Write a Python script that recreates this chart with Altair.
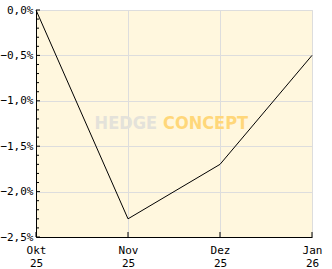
import altair as alt
import pandas as pd

months = ["Okt", "Nov", "Dez", "Jan"]
years = ["25", "25", "25", "26"]
values = [0.0, -2.3, -1.7, -0.5]

y_major = [0.0, -0.5, -1.0, -1.5, -2.0, -2.5]
y_minor = [-0.1, -0.2, -0.3, -0.4, -0.6, -0.7, -0.8, -0.9, -1.1, -1.2, -1.3, -1.4,
           -1.6, -1.7, -1.8, -1.9, -2.1, -2.2, -2.3, -2.4]
x_ticks = [0, 1, 2, 3]

df = pd.DataFrame({"i": list(range(len(values))), "v": values})
major_df = pd.DataFrame({"t": y_major})
minor_df = pd.DataFrame({"t": y_minor})
xt_df = pd.DataFrame({"i": x_ticks})

W, H = 276, 227
FONT = "DejaVu Sans Mono"

month_expr = " : ".join(f"datum.value=={k} ? ['{m}','{y}']" for k, (m, y) in enumerate(zip(months, years))) + " : ''"

xscale = alt.Scale(domain=[0, 3], nice=False, zero=False)
yscale = alt.Scale(domain=[-2.5, 0], nice=False, zero=False)

line = alt.Chart(df).mark_line(color="black", strokeWidth=1).encode(
    x=alt.X("i:Q", scale=xscale, title=None,
            axis=alt.Axis(values=x_ticks, labelExpr=month_expr, tickSize=0,
                          grid=True, gridColor="#dddddd", domainColor="black",
                          labelFont=FONT, labelFontSize=11, labelColor="black",
                          labelPadding=7, labelLineHeight=13, labelBaseline="top",
                          labelFlush=False)),
    y=alt.Y("v:Q", scale=yscale, title=None,
            axis=alt.Axis(values=y_major,
                          labelExpr="replace(format(datum.value, '.1f'), '.', ',') + '%'",
                          tickSize=0, grid=True, gridColor="#dddddd", domainColor="black",
                          labelFont=FONT, labelFontSize=11, labelColor="black",
                          labelPadding=3)),
)

major_ticks = alt.Chart(major_df).mark_rule(color="black", strokeWidth=1).encode(
    y=alt.Y("t:Q", scale=yscale), x=alt.value(0), x2=alt.value(4))
minor_ticks = alt.Chart(minor_df).mark_rule(color="black", strokeWidth=1).encode(
    y=alt.Y("t:Q", scale=yscale), x=alt.value(0), x2=alt.value(3))
x_tk = alt.Chart(xt_df).mark_rule(color="black", strokeWidth=1).encode(
    x=alt.X("i:Q", scale=xscale), y=alt.value(H - 5), y2=alt.value(H))

wm1 = alt.Chart(pd.DataFrame({"t": ["HEDGE"]})).mark_text(
    font="DejaVu Sans Condensed", fontWeight="bold", fontSize=18, color="#e4e2da",
    align="right", baseline="middle").encode(text="t:N", x=alt.value(121), y=alt.value(114))
wm2 = alt.Chart(pd.DataFrame({"t": ["CONCEPT"]})).mark_text(
    font="DejaVu Sans Condensed", fontWeight="bold", fontSize=18, color="#ffd77a",
    align="left", baseline="middle").encode(text="t:N", x=alt.value(127), y=alt.value(114))

chart = alt.layer(wm1, wm2, line, major_ticks, minor_ticks, x_tk).properties(
    width=W, height=H,
    autosize=alt.AutoSizeParams(type="none"),
    padding={"left": 36, "top": 10, "right": 20, "bottom": 32},
    background="white",
).configure_view(fill="#fff7de", stroke="#dddddd", strokeWidth=1)

chart.save("out.html", embed_options={"renderer": "svg", "actions": False})
